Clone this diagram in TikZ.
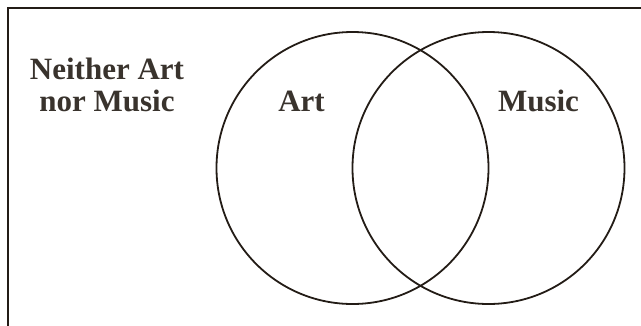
\documentclass[tikz,border=0pt]{standalone}
\usepackage{fontspec}
\setmainfont{Liberation Serif}
\usepackage{xcolor}
\definecolor{ink}{RGB}{35,28,22}

\begin{document}
\begin{tikzpicture}[x=1pt, y=-1pt,
  venn/.style={draw=ink, circle, line width=1.8pt, minimum size=272pt, inner sep=0pt},
  lbl/.style={font=\fontsize{31}{32}\selectfont\bfseries, text=ink!90, align=center, inner sep=0pt}]
  \useasboundingbox (0,0) rectangle (641,325);
  \clip (0,0) rectangle (641,325);
  \draw[ink, line width=2pt] (8,340) -- (8,8) -- (660,8);
  \node[venn] (art) at (352.5,168) {};
  \node[venn] (music) at (488.5,168) {};
  % base of a two-line node is its last line
  \node[lbl, anchor=base] (neither) at (107,111) {Neither Art\\nor Music};
  \node[lbl, anchor=base] (artlbl) at (301.5,111) {Art};
  \node[lbl, anchor=base] (musiclbl) at (538.5,111) {Music};
\end{tikzpicture}
\end{document}
